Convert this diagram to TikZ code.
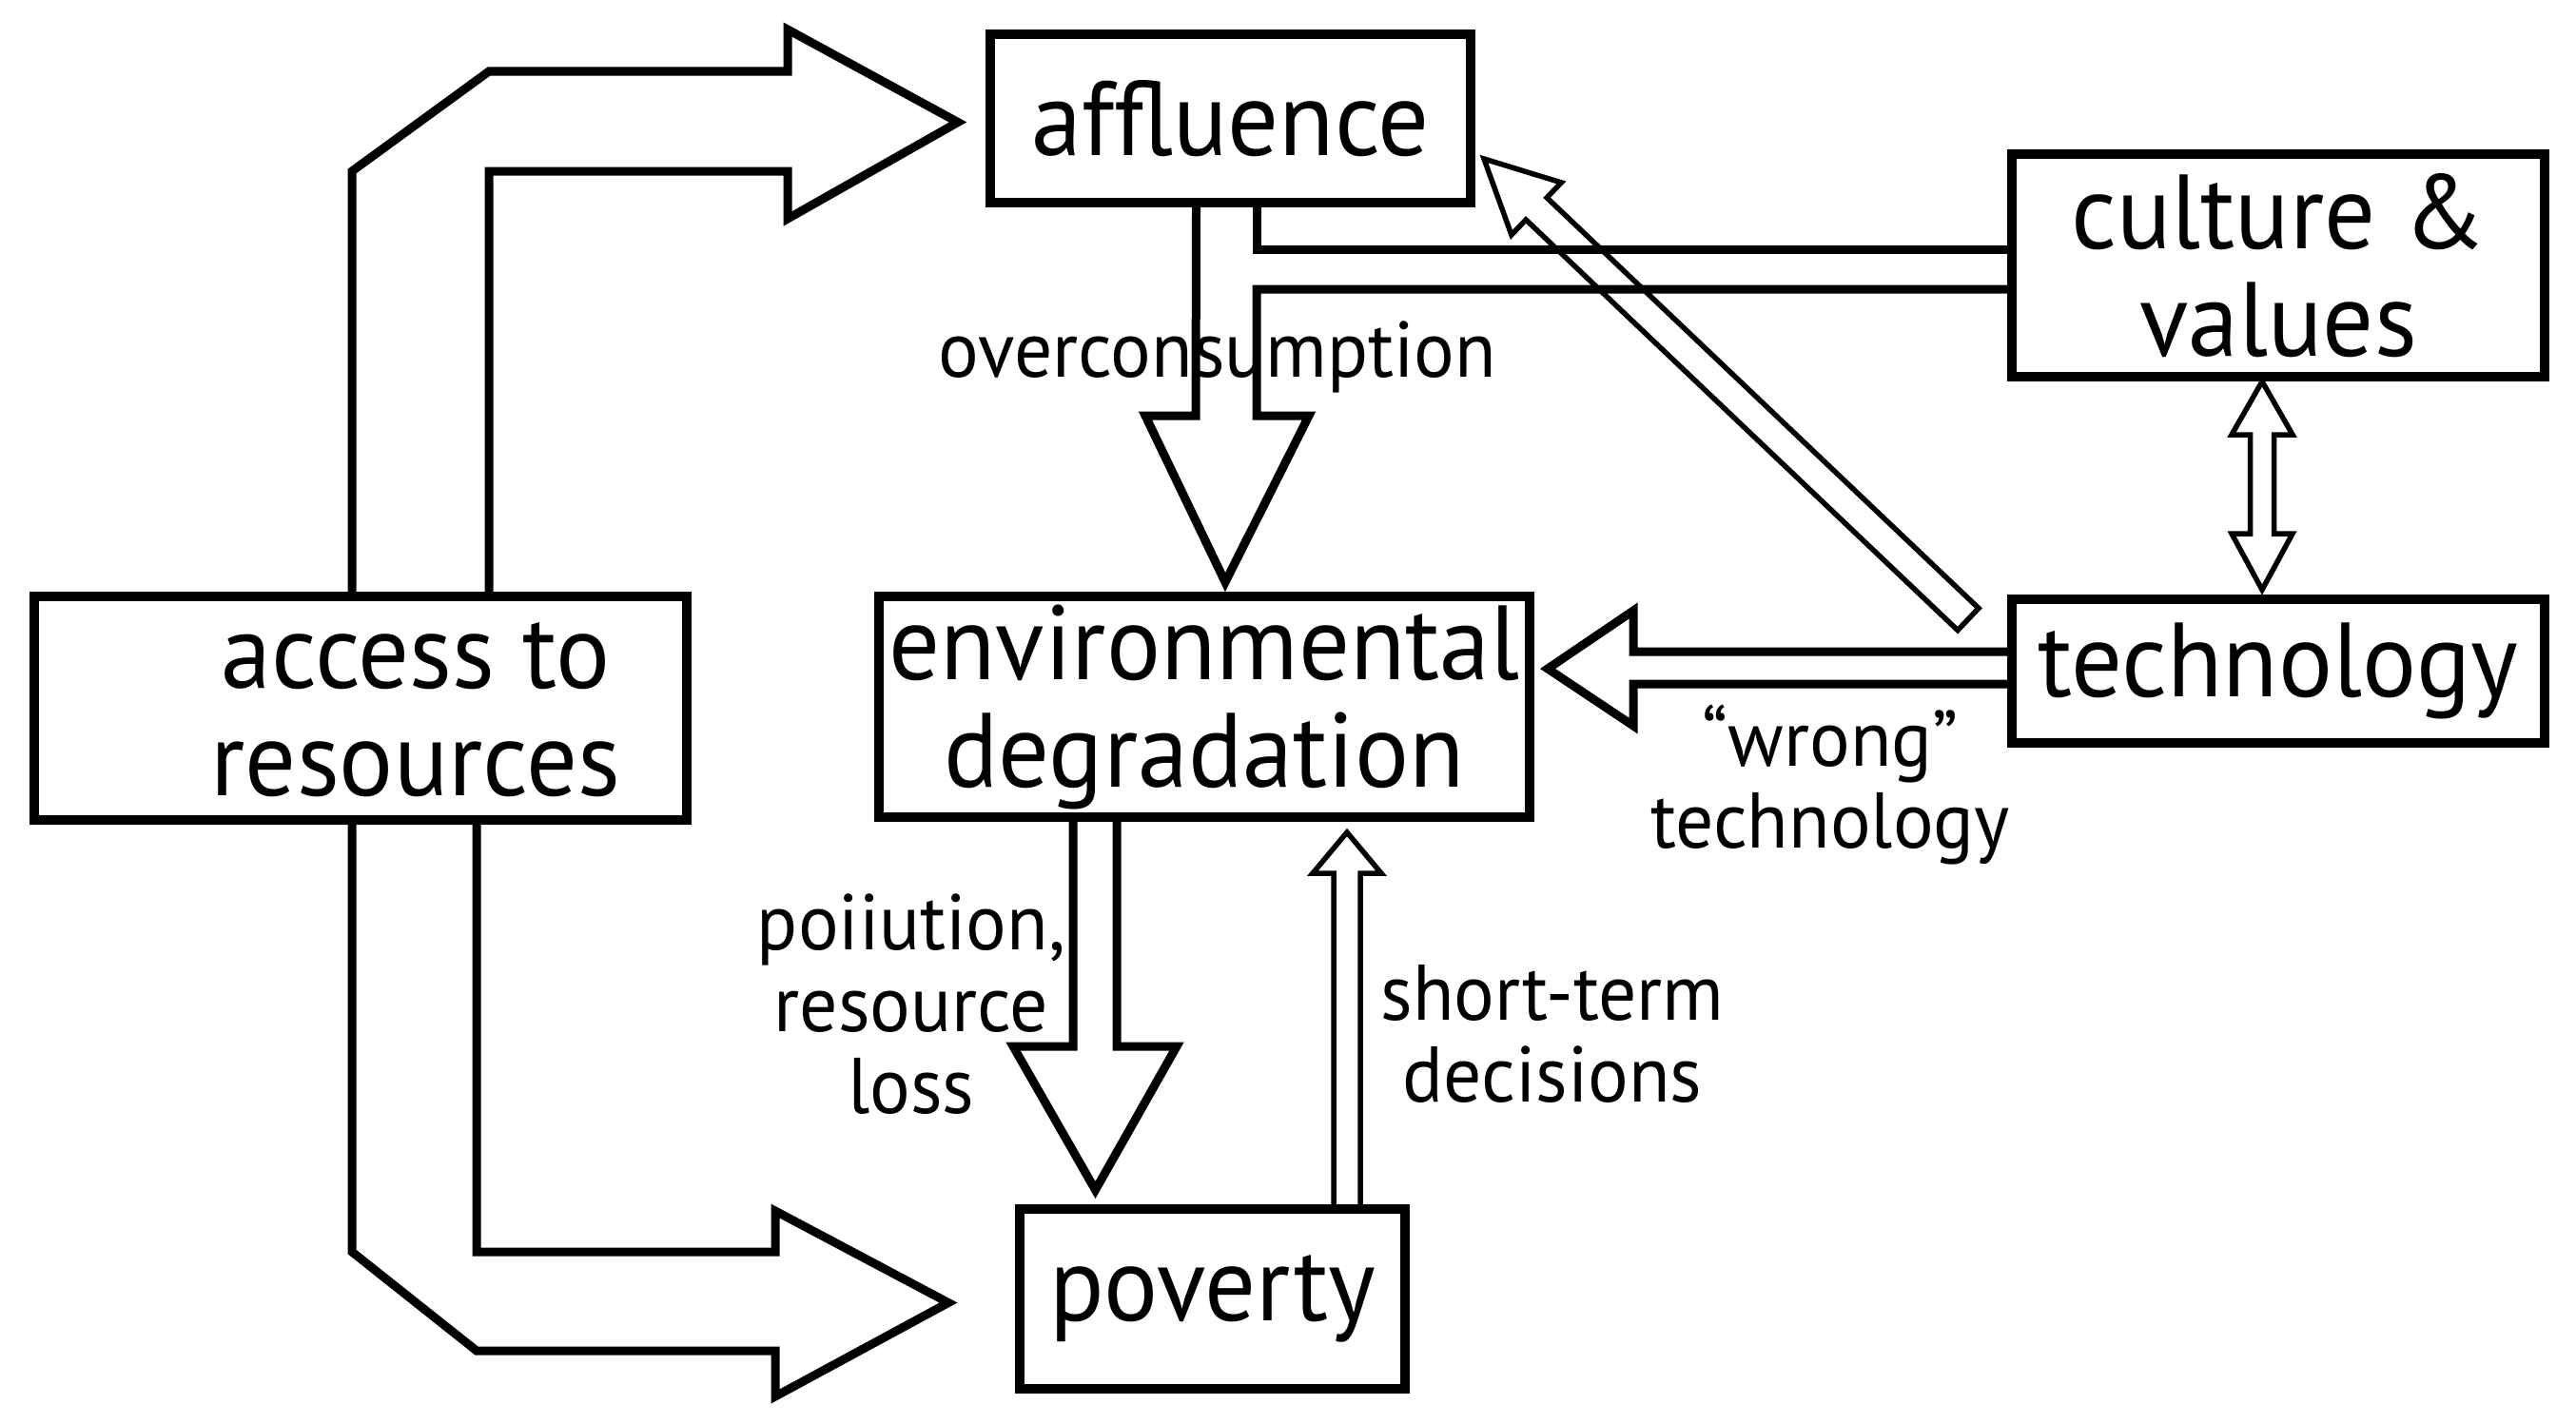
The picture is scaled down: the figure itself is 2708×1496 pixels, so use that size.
\documentclass[tikz,border=0pt]{standalone}
\usepackage{fontspec}
\setmainfont{PT Sans}[FakeStretch=0.96]
\usetikzlibrary{calc}
\begin{document}
\begin{tikzpicture}[x=1pt,y=-1pt,line join=miter,
  box/.style={draw,line width=10pt,inner sep=0pt,align=center,font=\fontsize{111}{113}\selectfont},
  boxtext/.style={inner sep=0pt,align=center,font=\fontsize{111}{113}\selectfont},
  lab/.style={inner sep=0pt,align=center,font=\fontsize{83}{86}\selectfont},
  fat/.style={draw,line width=9pt},
  slim/.style={draw,line width=5.5pt}]
\useasboundingbox (0,0) rectangle (2708,1496);

% boxes
\node[box,minimum width=505,minimum height=177] (affl) at (1293.5,124.5) {affluence};
\node[box,minimum width=560,minimum height=234] (cult) at (2395,279) {culture \&\\values};
\node[box,minimum width=560,minimum height=151] (tech) at (2395,705.5) {technology};
\node[box,minimum width=684,minimum height=232] (env) at (1266,743) {environmental\\degradation};
\node[box,minimum width=686,minimum height=235] (access) at (379,744.5) {};
\node[boxtext] (accesstext) at (437,746) {access to\\resources};
\node[box,minimum width=405,minimum height=189] (pov) at (1274.5,1365.5) {poverty};

% access -> affluence
\draw[fat] ($(access.north)+(-9,0)$) -- (370,180) -- (514,75) -- (828,75) -- (828,31)
  -- ($(affl.west)+(-29,4)$) -- (828,230) -- (828,180) -- (514,180) -- ($(access.north)+(135,0)$);
% access -> poverty
\draw[fat] ($(access.south)+(-9,0)$) -- (370,1316) -- (501,1420) -- (815,1420) -- (815,1468)
  -- ($(pov.west)+(-70,4)$) -- (815,1273) -- (815,1316) -- (501,1316) -- ($(access.south)+(122,0)$);
% affluence -> env (overconsumption) joined by culture & values
\draw[fat] ($(affl.south)+(-36,0)$) -- (1257,437) -- (1204,437) -- ($(env.north)+(22,-10)$)
  -- (1376,437) -- (1321,437) -- (1321,304) -- ($(cult.west)+(0,25)$);
\draw[fat] ($(cult.west)+(0,-17)$) -- (1321,262) -- ($(affl.south)+(27.5,0)$);
% env -> poverty (pollution)
\draw[fat] ($(env.south)+(-138,0)$) -- (1128,1100) -- (1065,1100) -- ($(pov.north)+(-123,-15)$)
  -- (1237,1100) -- (1174,1100) -- ($(env.south)+(-92,0)$);
% poverty -> env (short-term)
\draw[slim] ($(pov.north)+(127.5,0)$) -- (1402,918) -- (1380,918) -- ($(env.south)+(150,11)$)
  -- (1452,918) -- (1430,918) -- ($(pov.north)+(155.5,0)$);
% technology -> env
\draw[fat] ($(tech.west)+(0,-20.5)$) -- (1717,685) -- (1717,642) -- ($(env.east)+(14,-40)$)
  -- (1717,763) -- (1717,719) -- ($(tech.west)+(0,13.5)$);
% technology -> affluence (diagonal)
\draw[slim] (2080,639.4) -- (1626.1,207.8) -- (1641.3,191.9) -- ($(affl.east)+(9,42.5)$)
  -- (1588.9,246.9) -- (1604.1,231.0) -- (2058,662.6) -- cycle;
% culture <-> technology
\draw[slim] ($(cult.south)+(-17,0)$) -- (2410,457) -- (2390.5,457) -- (2390.5,561) -- (2410,561)
  -- ($(tech.north)+(-17,-5)$) -- (2346,561) -- (2365.5,561) -- (2365.5,457) -- (2346,457) -- cycle;

% labels
\node[lab] (l1) at (1280,375) {overconsumption};
\node[lab] (l2) at (958,1056) {poiiution,\\resource\\loss};
\node[lab] (l3) at (1632,1087) {short-term\\decisions};
\node[lab] (l4) at (1924,825) {“wrong”\\technology};
\end{tikzpicture}
\end{document}
